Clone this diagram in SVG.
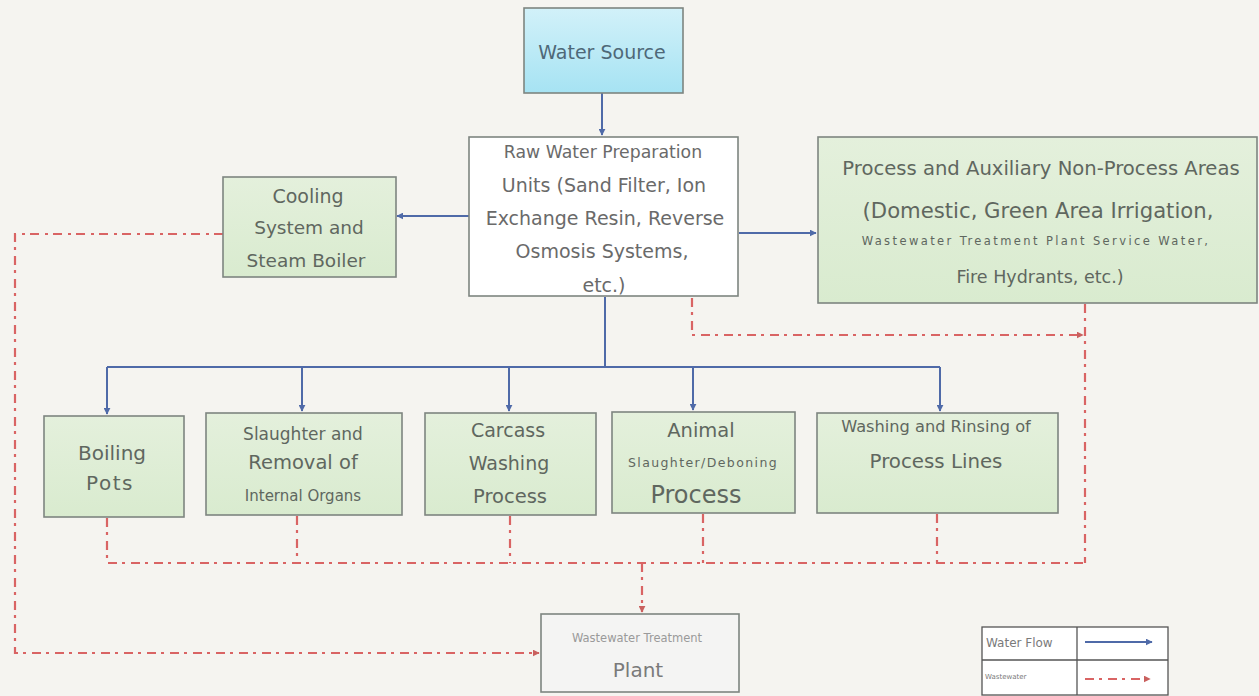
<svg xmlns="http://www.w3.org/2000/svg" width="1259" height="696" viewBox="0 0 1259 696">
<defs>
<linearGradient id="gGreen" x1="0" y1="0" x2="0" y2="1"><stop offset="0" stop-color="#e4f0dc"/><stop offset="1" stop-color="#d9ebcf"/></linearGradient>
<linearGradient id="gCyan" x1="0" y1="0" x2="0" y2="1"><stop offset="0" stop-color="#d2f1f9"/><stop offset="1" stop-color="#a6e3f3"/></linearGradient>
<marker id="aBlue" viewBox="0 0 10 10" refX="9" refY="5" markerWidth="7" markerHeight="7" markerUnits="userSpaceOnUse" orient="auto"><path d="M0,0 L10,5 L0,10 z" fill="#4f6aa8"/></marker>
<marker id="aRed" viewBox="0 0 10 10" refX="9" refY="5" markerWidth="7" markerHeight="7" markerUnits="userSpaceOnUse" orient="auto"><path d="M0,0 L10,5 L0,10 z" fill="#c9605e"/></marker>
</defs>
<style>
.box{stroke:#7e8580;stroke-width:1.6}
.green{fill:url(#gGreen)}
.t{font-family:"DejaVu Sans","Liberation Sans",sans-serif;fill:#5f675f;text-anchor:middle}
.tg{fill:#6a6a6a}
.blue{fill:none;stroke:#4f6aa8;stroke-width:2}
.red{fill:none;stroke:#d96464;stroke-width:2.2;stroke-dasharray:9 5 3 6}
.lg{font-family:"DejaVu Sans","Liberation Sans",sans-serif;fill:#7a7a7a}
</style>
<rect width="1259" height="696" fill="#f5f4f0"/>

<g id="connectors">
<path class="blue" d="M602,93 V135" marker-end="url(#aBlue)"/>
<path class="blue" d="M469,216 H397" marker-end="url(#aBlue)"/>
<path class="blue" d="M739,233 H816" marker-end="url(#aBlue)"/>
<path class="blue" d="M605,297 V367"/>
<path class="blue" d="M107,367 H940"/>
<path class="blue" d="M107,367 V414" marker-end="url(#aBlue)"/>
<path class="blue" d="M302,367 V411" marker-end="url(#aBlue)"/>
<path class="blue" d="M509,367 V411" marker-end="url(#aBlue)"/>
<path class="blue" d="M693,367 V410" marker-end="url(#aBlue)"/>
<path class="blue" d="M940,367 V411" marker-end="url(#aBlue)"/>

<path class="red" d="M223,234 H15 V653 H539" marker-end="url(#aRed)"/>
<path class="red" d="M692,298 V335 H1083" marker-end="url(#aRed)"/>
<path class="red" d="M1085,304 V563"/>
<path class="red" d="M107,518 V563 H1085"/>
<path class="red" d="M297,516 V563"/>
<path class="red" d="M510,516 V563"/>
<path class="red" d="M703,514 V563"/>
<path class="red" d="M937,514 V563"/>
<path class="red" d="M642,563 V612" marker-end="url(#aRed)"/>
</g>

<g id="water-source">
<rect class="box" x="524" y="8" width="159" height="85" fill="url(#gCyan)"/>
<text class="t" x="602" y="59" font-size="19" style="fill:#4e6878">Water Source</text>
</g>

<g id="raw-water">
<rect class="box" x="469" y="137" width="269" height="159" fill="#ffffff"/>
<text class="t tg" x="603" y="158" font-size="17.3">Raw Water Preparation</text>
<text class="t tg" x="604" y="192" font-size="19">Units (Sand Filter, Ion</text>
<text class="t tg" x="605" y="225" font-size="19">Exchange Resin, Reverse</text>
<text class="t tg" x="602" y="258" font-size="19">Osmosis Systems,</text>
<text class="t tg" x="604" y="292" font-size="19">etc.)</text>
</g>

<g id="cooling">
<rect class="box green" x="223" y="177" width="173" height="100"/>
<text class="t" x="308" y="203" font-size="19">Cooling</text>
<text class="t" x="309" y="234" font-size="18.5">System and</text>
<text class="t" x="306" y="267" font-size="18.5">Steam Boiler</text>
</g>

<g id="auxiliary">
<rect class="box green" x="818" y="137" width="439" height="166"/>
<text class="t" x="1041" y="175" font-size="19.6">Process and Auxiliary Non-Process Areas</text>
<text class="t" x="1038" y="218" font-size="21.2">(Domestic, Green Area Irrigation,</text>
<text class="t" x="1036" y="245" font-size="11.5" letter-spacing="2.4">Wastewater Treatment Plant Service Water,</text>
<text class="t" x="1040" y="283" font-size="17.5">Fire Hydrants, etc.)</text>
</g>

<g id="boiling-pots">
<rect class="box green" x="44" y="416" width="140" height="101"/>
<text class="t" x="112" y="460" font-size="20">Boiling</text>
<text class="t" x="110" y="490" font-size="20" letter-spacing="1.5">Pots</text>
</g>

<g id="slaughter">
<rect class="box green" x="206" y="413" width="196" height="102"/>
<text class="t" x="303" y="440" font-size="17">Slaughter and</text>
<text class="t" x="303" y="469" font-size="19.5">Removal of</text>
<text class="t" x="303" y="501" font-size="15">Internal Organs</text>
</g>

<g id="carcass">
<rect class="box green" x="425" y="413" width="171" height="102"/>
<text class="t" x="508" y="437" font-size="19">Carcass</text>
<text class="t" x="509" y="470" font-size="19">Washing</text>
<text class="t" x="510" y="503" font-size="19.5">Process</text>
</g>

<g id="animal">
<rect class="box green" x="612" y="412" width="183" height="101"/>
<text class="t" x="701" y="437" font-size="19.5">Animal</text>
<text class="t" x="703" y="467" font-size="12.5" letter-spacing="1.4">Slaughter/Deboning</text>
<text class="t" x="696" y="503" font-size="24">Process</text>
</g>

<g id="washing">
<rect class="box green" x="817" y="413" width="241" height="100"/>
<text class="t" x="936" y="432" font-size="16.2">Washing and Rinsing of</text>
<text class="t" x="936" y="468" font-size="19.8">Process Lines</text>
</g>

<g id="wwtp">
<rect class="box" x="541" y="614" width="198" height="78" fill="#f4f4f3"/>
<text class="t" x="637" y="642" font-size="11.5" style="fill:#9a9a9a">Wastewater Treatment</text>
<text class="t" x="638" y="677" font-size="20" style="fill:#7a7a7a">Plant</text>
</g>

<g id="legend">
<rect x="982" y="627" width="186" height="68" fill="#ffffff" stroke="#555" stroke-width="1.3"/>
<line x1="982" y1="660" x2="1168" y2="660" stroke="#555" stroke-width="1.3"/>
<line x1="1077" y1="627" x2="1077" y2="695" stroke="#555" stroke-width="1.3"/>
<text class="lg" x="986" y="647" font-size="12">Water Flow</text>
<text class="lg" x="985" y="679" font-size="7">Wastewater</text>
<path class="blue" d="M1085,642 H1152" marker-end="url(#aBlue)"/>
<path class="red" d="M1085,679 H1150" marker-end="url(#aRed)"/>
</g>
</svg>
